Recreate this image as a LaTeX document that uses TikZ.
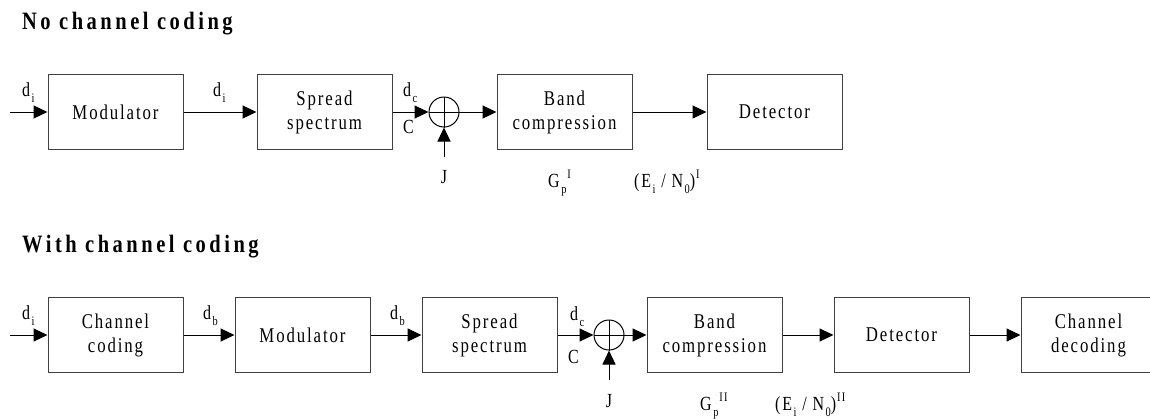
\documentclass[tikz,border=0pt]{standalone}
\usepackage{fontspec}
\setmainfont{Liberation Serif}[FakeStretch=0.8,LetterSpace=9]
\newfontfamily\headfont{Liberation Serif}[FakeStretch=0.82,LetterSpace=14]
\usetikzlibrary{arrows.meta}
\newcommand{\sbs}[1]{\kern1.5pt\raisebox{-0.3em}{\fontsize{13}{13}\selectfont #1}}
\newcommand{\sps}[1]{\kern1pt\raisebox{0.42em}{\fontsize{13}{13}\selectfont #1}}
\newcommand{\wsp}{\hspace{8.5pt}}
\tikzset{
  blk/.style={draw=black!75, line width=1pt, minimum width=135pt, minimum height=75pt,
    align=center, font=\fontsize{21}{24}\selectfont, inner sep=0pt},
  sig/.style={draw=black, line width=1pt, -{Triangle[length=14pt,width=13pt]}},
  lbl/.style={font=\fontsize{20}{20}\selectfont, inner sep=0pt, anchor=base west},
  lblc/.style={font=\fontsize{20}{20}\selectfont, inner sep=0pt, anchor=base},
  sumnode/.style={circle, draw=black, line width=1pt, minimum size=30pt, inner sep=0pt},
  head/.style={font=\headfont\bfseries\fontsize{25}{26}\selectfont, anchor=base west, inner sep=0pt}
}
\begin{document}
\begin{tikzpicture}[x=1pt,y=-1pt]
\useasboundingbox (0,0) rectangle (1150,418);
% ---------- top ----------
\node[head] (t1) at (22,29) {No\wsp channel\wsp coding};
\coordinate (in1) at (10,112);
\node[blk] (mod1) at (115.5,112) {Modulator};
\node[blk] (ss1) at (324.5,112) {Spread\\spectrum};
\node[sumnode] (sum1) at (444,112) {};
\node[blk] (bc1) at (564.5,112) {Band\\compression};
\node[blk] (det1) at (774.5,112) {Detector};
\coordinate (j1) at (444,157);
\draw[sig] (in1) -- (mod1);
\draw[sig] (mod1) -- (ss1);
\draw[sig] (ss1) -- (sum1);
\draw[sig] (sum1) -- (bc1);
\draw[sig] (bc1) -- (det1);
\draw[sig] (j1) -- (sum1);
\draw[line width=1pt] (sum1.north) -- (sum1.south) (sum1.west) -- (sum1.east);
\node[lbl] (ldi1) at (22,96) {d\sbs{i}};
\node[lbl] (ldi2) at (213,96) {d\sbs{i}};
\node[lbl] (ldc1) at (403,96) {d\sbs{c}};
\node[lbl] (lC1) at (403,133) {C};
\node[lblc] (lJ1) at (444,183) {J};
\node[lbl] (lG1) at (548,187) {G\sbs{p}\sps{I}};
\node[lbl] (lE1) at (634,187) {(E\sbs{i} / N\sbs{0})\sps{I}};
% ---------- bottom ----------
\node[head] (t2) at (22,252) {With\wsp channel\wsp coding};
\coordinate (in2) at (10,335);
\node[blk] (cc2) at (115.5,335) {Channel\\coding};
\node[blk] (mod2) at (302.5,335) {Modulator};
\node[blk] (ss2) at (489.5,335) {Spread\\spectrum};
\node[sumnode] (sum2) at (609,335) {};
\node[blk] (bc2) at (714.5,335) {Band\\compression};
\node[blk] (det2) at (901.5,335) {Detector};
\node[blk] (cd2) at (1088.5,335) {Channel\\decoding};
\coordinate (j2) at (609,380);
\draw[sig] (in2) -- (cc2);
\draw[sig] (cc2) -- (mod2);
\draw[sig] (mod2) -- (ss2);
\draw[sig] (ss2) -- (sum2);
\draw[sig] (sum2) -- (bc2);
\draw[sig] (bc2) -- (det2);
\draw[sig] (det2) -- (cd2);
\draw[sig] (j2) -- (sum2);
\draw[line width=1pt] (sum2.north) -- (sum2.south) (sum2.west) -- (sum2.east);
\node[lbl] (ldi3) at (22,319) {d\sbs{i}};
\node[lbl] (ldb1) at (203,319) {d\sbs{b}};
\node[lbl] (ldb2) at (390,319) {d\sbs{b}};
\node[lbl] (ldc2) at (570,320) {d\sbs{c}};
\node[lbl] (lC2) at (568,363) {C};
\node[lblc] (lJ2) at (609,407) {J};
\node[lbl] (lG2) at (700,410) {G\sbs{p}\sps{II}};
\node[lbl] (lE2) at (775,410) {(E\sbs{i} / N\sbs{0})\sps{II}};
\end{tikzpicture}
\end{document}
